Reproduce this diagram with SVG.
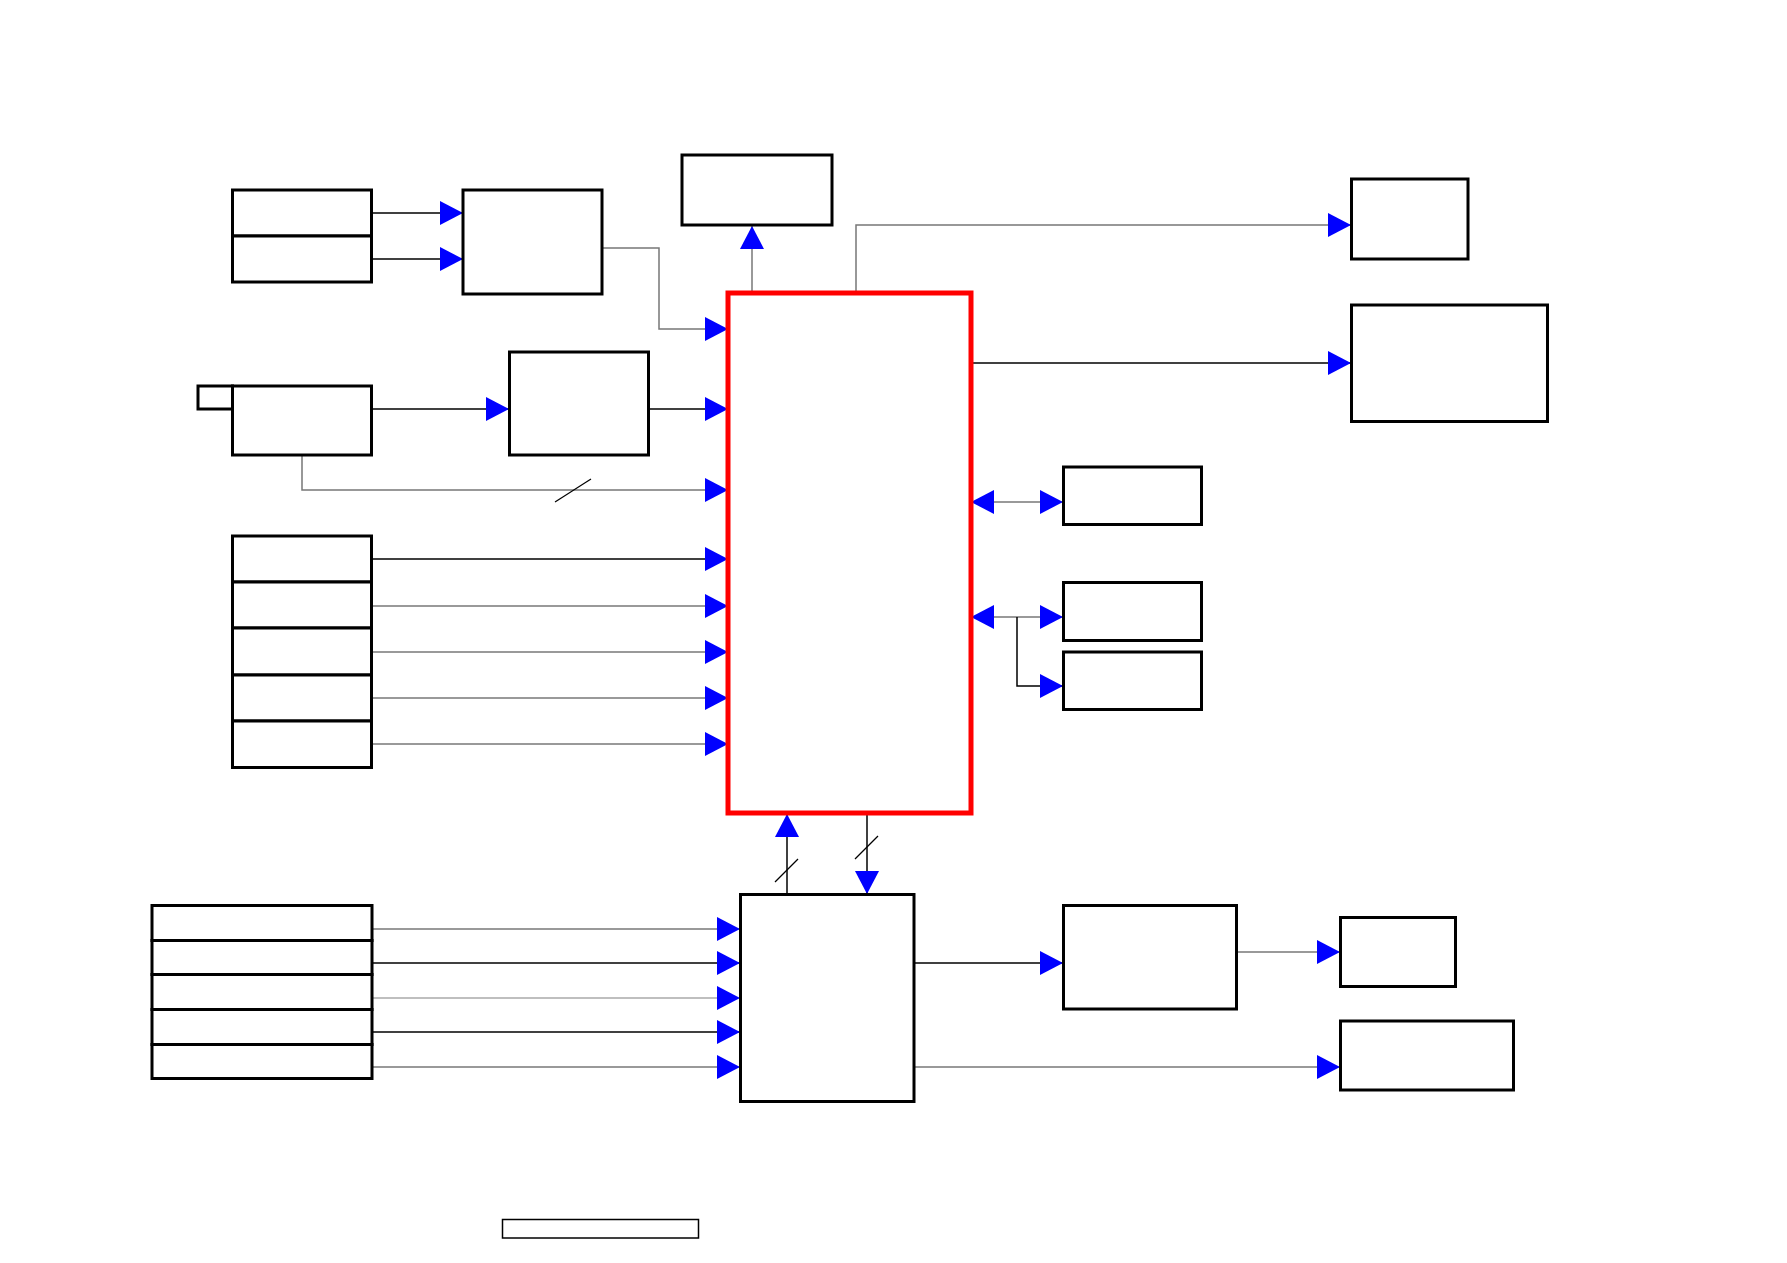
<svg xmlns="http://www.w3.org/2000/svg" width="1787" height="1263" viewBox="0 0 1787 1263">
<style>
.box{fill:#fff;stroke:#000;stroke-width:3}
.main{fill:#fff;stroke:#ff0000;stroke-width:5}
.ln{fill:none;stroke:#000;stroke-width:1.5}
.gr{fill:none;stroke:#777;stroke-width:1.5}
.lg{fill:none;stroke:#aaa;stroke-width:1.5}
.arr{marker-end:url(#ah)}
.dbl{marker-start:url(#ah);marker-end:url(#ah)}
.sl{stroke:#000;stroke-width:1.2}
</style>
<defs>
<marker id="ah" markerUnits="userSpaceOnUse" markerWidth="24" markerHeight="24" viewBox="0 0 24 24" refX="23" refY="12" orient="auto-start-reverse">
<path d="M0,0 L23,12 L0,24 z" fill="#0000ff"/>
</marker>
</defs>
<rect width="1787" height="1263" fill="#fff"/>
<g id="connectors">
<path class="ln arr" d="M372,213 H463"/>
<path class="ln arr" d="M372,259 H463"/>
<path class="gr arr" d="M602,248 H659 V329 H728"/>
<path class="gr arr" d="M752,293 V226"/>
<path class="gr arr" d="M856,293 V225 H1351"/>
<path class="ln arr" d="M971,363 H1351"/>
<path class="ln arr" d="M372,409 H509"/>
<path class="ln arr" d="M649,409 H728"/>
<path class="gr arr" d="M302,455 V490 H728"/>
<line class="sl" x1="555" y1="502" x2="591" y2="479"/>
<path class="ln arr" d="M372,559 H728"/>
<path class="gr arr" d="M372,606 H728"/>
<path class="gr arr" d="M372,652 H728"/>
<path class="gr arr" d="M372,698 H728"/>
<path class="gr arr" d="M372,744 H728"/>
<path class="gr dbl" d="M971,502 H1063"/>
<path class="gr dbl" d="M971,617 H1063"/>
<path class="ln arr" d="M1017,617 V686 H1063"/>
<path class="ln arr" d="M787,894 V814"/>
<line class="sl" x1="775" y1="882" x2="798" y2="859"/>
<path class="ln arr" d="M867,813 V894"/>
<line class="sl" x1="855" y1="859" x2="878" y2="836"/>
<path class="gr arr" d="M372,929 H740"/>
<path class="ln arr" d="M372,963 H740"/>
<path class="lg arr" d="M372,998 H740"/>
<path class="ln arr" d="M372,1032 H740"/>
<path class="gr arr" d="M372,1067 H740"/>
<path class="ln arr" d="M914,963 H1063"/>
<path class="gr arr" d="M1237,952 H1340"/>
<path class="gr arr" d="M914,1067 H1340"/>
</g>
<g id="n-a1"><rect class="box" x="232.5" y="190" width="139" height="46"/></g>
<g id="n-a2"><rect class="box" x="232.5" y="236" width="139" height="46"/></g>
<g id="n-b"><rect class="box" x="463" y="190" width="139" height="104"/></g>
<g id="n-c"><rect class="box" x="682" y="155" width="150" height="70"/></g>
<g id="n-main"><rect class="main" x="728" y="293" width="243" height="520"/></g>
<g id="n-d"><rect class="box" x="198" y="386" width="34.5" height="23"/><rect class="box" x="232.5" y="386" width="139" height="69"/></g>
<g id="n-e"><rect class="box" x="509.5" y="352" width="139" height="103"/></g>
<g id="n-f1"><rect class="box" x="232.5" y="536" width="139" height="46"/></g>
<g id="n-f2"><rect class="box" x="232.5" y="582" width="139" height="46"/></g>
<g id="n-f3"><rect class="box" x="232.5" y="628" width="139" height="47"/></g>
<g id="n-f4"><rect class="box" x="232.5" y="675" width="139" height="46"/></g>
<g id="n-f5"><rect class="box" x="232.5" y="721" width="139" height="46.5"/></g>
<g id="n-g"><rect class="box" x="1351.5" y="179" width="116.5" height="80"/></g>
<g id="n-h"><rect class="box" x="1351.5" y="305" width="196" height="116.5"/></g>
<g id="n-i"><rect class="box" x="1063.5" y="467" width="138" height="57.5"/></g>
<g id="n-j"><rect class="box" x="1063.5" y="582.5" width="138" height="58"/></g>
<g id="n-k"><rect class="box" x="1063.5" y="652" width="138" height="57.5"/></g>
<g id="n-l1"><rect class="box" x="152" y="905.5" width="220" height="35"/></g>
<g id="n-l2"><rect class="box" x="152" y="940.5" width="220" height="34"/></g>
<g id="n-l3"><rect class="box" x="152" y="974.5" width="220" height="35"/></g>
<g id="n-l4"><rect class="box" x="152" y="1009.5" width="220" height="35"/></g>
<g id="n-l5"><rect class="box" x="152" y="1044.5" width="220" height="34"/></g>
<g id="n-m"><rect class="box" x="740.5" y="894.5" width="173.5" height="207"/></g>
<g id="n-n"><rect class="box" x="1063.5" y="905.5" width="173" height="103.5"/></g>
<g id="n-o"><rect class="box" x="1340.5" y="917.5" width="115" height="69"/></g>
<g id="n-p"><rect class="box" x="1340.5" y="1021" width="173" height="69"/></g>
<g id="n-q"><rect fill="#fff" stroke="#000" stroke-width="1.5" x="502.5" y="1219.5" width="196" height="18.5"/></g>
</svg>
